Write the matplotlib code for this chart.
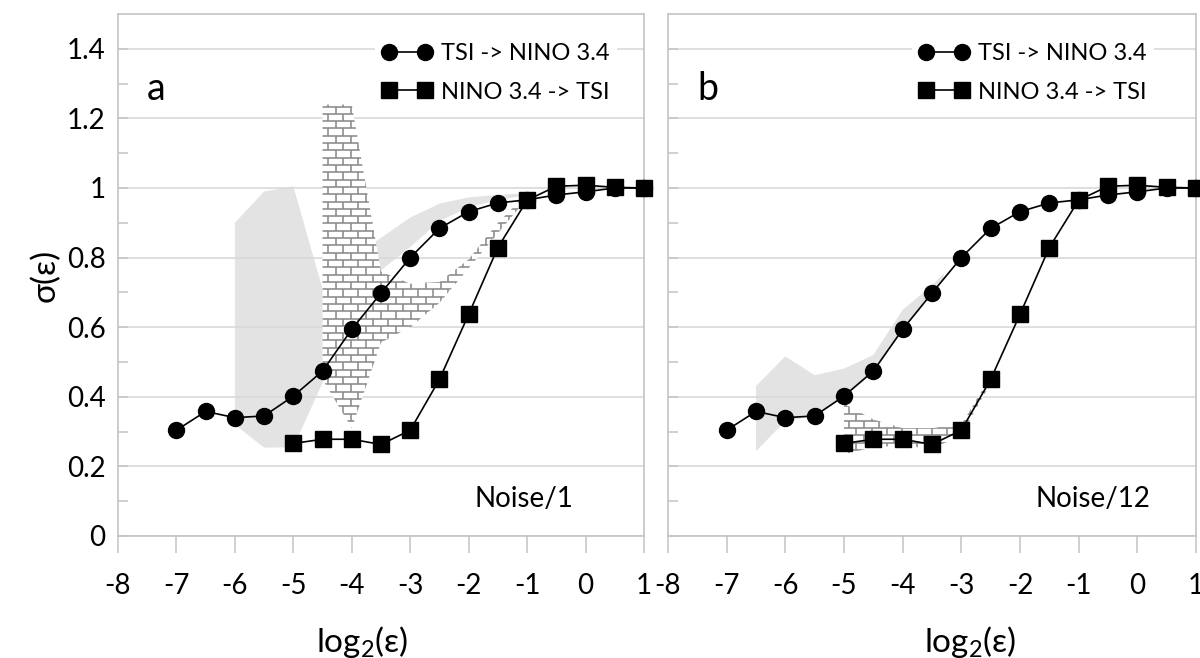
import matplotlib
matplotlib.use('Agg')
import matplotlib.pyplot as plt
import numpy as np
from matplotlib.collections import LineCollection
from matplotlib.patches import Polygon

plt.rcParams['font.family'] = ['Lato', 'DejaVu Sans']
plt.rcParams['mathtext.default'] = 'regular'
plt.rcParams['axes.unicode_minus'] = False

# data
x_circ = [-7, -6.5, -6, -5.5, -5, -4.5, -4, -3.5, -3, -2.5, -2, -1.5, -1, -0.5, 0, 0.5, 1]
tsi_nino = [0.304, 0.358, 0.340, 0.345, 0.402, 0.474, 0.594, 0.698, 0.800, 0.884,
            0.932, 0.957, 0.966, 0.980, 0.989, 1.000, 1.000]
x_sq = [-5, -4.5, -4, -3.5, -3, -2.5, -2, -1.5, -1, -0.5, 0, 0.5, 1]
nino_tsi = [0.266, 0.278, 0.278, 0.263, 0.304, 0.450, 0.637, 0.829, 0.965,
            1.005, 1.008, 1.002, 1.000]

# panel a: bands
gray_a_x = [-6, -5.5, -5, -4.5, -4, -3.6, -3, -2.5, -2, -1.5, -1]
gray_a_lo = [0.32, 0.254, 0.255, 0.44, 0.62, 0.75, 0.83, 0.905, 0.945, 0.965, 0.98]
gray_a_hi = [0.90, 0.99, 1.005, 0.71, 0.72, 0.845, 0.915, 0.955, 0.973, 0.98, 0.985]
brick_a_x = [-4.5, -4, -3.5, -3, -2.5, -2, -1.5, -1]
brick_a_lo = [0.45, 0.31, 0.556, 0.60, 0.67, 0.77, 0.87, 0.97]
brick_a_hi = [1.24, 1.24, 0.76, 0.725, 0.73, 0.795, 0.90, 0.985]

# panel b: bands
gray_b_x = [-6.5, -6, -5.5, -5, -4.5, -4, -3.5, -3.3]
gray_b_lo = [0.244, 0.33, 0.345, 0.40, 0.47, 0.59, 0.695, 0.74]
gray_b_hi = [0.431, 0.516, 0.462, 0.481, 0.52, 0.65, 0.72, 0.755]
brick_b_x = [-5, -4.5, -4, -3.5, -3, -2.5]
brick_b_lo = [0.235, 0.255, 0.26, 0.25, 0.29, 0.44]
brick_b_hi = [0.38, 0.335, 0.31, 0.31, 0.32, 0.46]

xticks = list(range(-8, 2))
yticks = [0, 0.2, 0.4, 0.6, 0.8, 1.0, 1.2, 1.4]
ylabels = ['0', '0.2', '0.4', '0.6', '0.8', '1', '1.2', '1.4']

GRID = '#d9d9d9'
SPINE = '#c4c4c4'


def brick(ax, x, lo, hi):
    x = np.asarray(x); lo = np.asarray(lo); hi = np.asarray(hi)
    verts = np.column_stack([np.r_[x, x[::-1]], np.r_[lo, hi[::-1]]])
    patch = Polygon(verts, facecolor='white', edgecolor='none', zorder=1.6)
    ax.add_patch(patch)
    # brick texture
    dy = 0.021
    dx = 0.257
    segs = []
    ys = np.arange(0.1, 1.35, dy)
    for k, y0 in enumerate(ys):
        segs.append([(-8, y0), (1, y0)])
        off = (k % 2) * dx / 2
        for xv in np.arange(-8 + off, 1, dx):
            segs.append([(xv, y0), (xv, y0 + dy)])
    lc = LineCollection(segs, colors='#8a8a8a', linewidths=1.15, zorder=1.7)
    ax.add_collection(lc)
    lc.set_clip_path(patch)


def panel(ax, letter, noise, gx, glo, ghi, bx, blo, bhi, leg_x, show_y):
    ax.fill_between(gx, glo, ghi, facecolor='#e3e3e3', edgecolor='none', zorder=0.4)
    brick(ax, bx, blo, bhi)
    ax.plot(x_circ, tsi_nino, '-o', color='black', ms=11.5, lw=1.2,
            label='TSI -> NINO 3.4', zorder=3, clip_on=False)
    ax.plot(x_sq, nino_tsi, '-s', color='black', ms=11.5, lw=1.2,
            label='NINO 3.4 -> TSI', zorder=3, clip_on=False)
    ax.set_xlim(-8, 1)
    ax.set_ylim(0, 1.5)
    ax.set_xticks(xticks)
    ax.set_yticks(yticks)
    ax.set_yticks(np.arange(0.1, 1.5, 0.2), minor=True)
    ax.grid(axis='y', which='major', color=GRID, lw=1.2)
    ax.set_axisbelow(True)
    for s in ax.spines.values():
        s.set_color(SPINE)
        s.set_linewidth(1.2)
    ax.tick_params(axis='x', direction='out', length=12, width=1.1, color=SPINE,
                   labelsize=20, pad=15)
    ax.tick_params(axis='y', which='both', direction='in', length=7, width=1.1,
                   color=SPINE, labelsize=20, pad=9)
    if show_y:
        ax.set_yticklabels(ylabels)
    else:
        ax.set_yticklabels([])
    ax.text(0.055, 0.857, letter, transform=ax.transAxes, fontsize=27,
            ha='left', va='center')
    ax.text(noise[1], 0.071, noise[0], transform=ax.transAxes, fontsize=20,
            ha='right', va='center')
    leg = ax.legend(loc='upper right', bbox_to_anchor=(leg_x, 0.958),
                    fontsize=17, numpoints=2, handlelength=2.1,
                    handletextpad=0.4, labelspacing=0.75, borderpad=0.3,
                    frameon=True, facecolor='white', edgecolor='none',
                    framealpha=1, borderaxespad=0)
    leg.get_frame().set_linewidth(0)


fig = plt.figure(figsize=(12, 6.58), dpi=100)
ax1 = fig.add_axes([118 / 1200, 122 / 658, 526 / 1200, 522 / 658])
ax2 = fig.add_axes([668 / 1200, 122 / 658, 528 / 1200, 522 / 658])

panel(ax1, 'a', ('Noise/1', 0.865), gray_a_x, gray_a_lo, gray_a_hi,
      brick_a_x, brick_a_lo, brick_a_hi, 0.948, True)
panel(ax2, 'b', ('Noise/12', 0.913), gray_b_x, gray_b_lo, gray_b_hi,
      brick_b_x, brick_b_lo, brick_b_hi, 0.92, False)

ax1.set_ylabel('σ(ε)', fontsize=24, labelpad=4)
ax1.text(0.464, -0.168, 'log$_2$(ε)', transform=ax1.transAxes, fontsize=24,
         ha='center', va='top')
ax2.text(0.572, -0.168, 'log$_2$(ε)', transform=ax2.transAxes, fontsize=24,
         ha='center', va='top')

fig.savefig('out.png', dpi=100)
